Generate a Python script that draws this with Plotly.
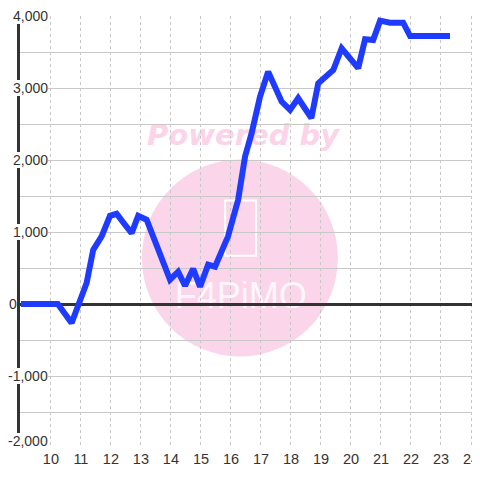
import plotly.graph_objects as go

# ---- data ----
hours = [9.0, 10.23, 10.69, 11.19, 11.41, 11.69, 11.97, 12.19, 12.47, 12.69,
         12.91, 13.19, 13.97, 14.24, 14.47, 14.74, 14.97, 15.24, 15.47, 15.90,
         16.24, 16.47, 16.69, 16.97, 17.24, 17.69, 17.97, 18.24, 18.68, 18.91,
         19.41, 19.69, 20.24, 20.47, 20.74, 20.97, 21.30, 21.74, 21.97, 23.30]
values = [0, 0, -264, 291, 753, 938, 1225, 1253, 1100, 985,
          1225, 1170, 337, 448, 254, 490, 240, 545, 518, 936,
          1447, 2048, 2373, 2880, 3227, 2811, 2696, 2858, 2581, 3066,
          3250, 3552, 3275, 3677, 3667, 3935, 3907, 3907, 3722, 3722]

x_ticks = list(range(10, 25))
x_tick_labels = [str(h) for h in x_ticks]
y_ticks = [4000, 3000, 2000, 1000, 0, -1000, -2000]
y_tick_labels = ["4,000", "3,000", "2,000", "1,000", "0", "-1,000", "-2,000"]

X_RANGE = [8.97, 24.3]
Y_RANGE = [-2000, 4000]

fig = go.Figure()
fig.add_trace(go.Scatter(
    x=hours, y=values, mode="lines",
    line=dict(color="#1f3bff", width=6),
    hoverinfo="skip", showlegend=False,
))

shapes = [
    # watermark circle
    dict(type="circle", xref="paper", yref="paper",
         x0=0.265, x1=0.691, y0=0.2116, y1=0.6676,
         fillcolor="#fbd6ea", line=dict(width=0), layer="below"),
    # phone outline of logo
    dict(type="rect", xref="paper", yref="paper",
         x0=0.446, x1=0.513, y0=0.445, y1=0.573,
         line=dict(color="white", width=2), fillcolor="rgba(0,0,0,0)", layer="below"),
    # logo text
    dict(type="rect", xref="paper", yref="paper",
         x0=0.30, x1=0.66, y0=0.30, y1=0.42,
         line=dict(width=0), fillcolor="rgba(0,0,0,0)", layer="below",
         label=dict(text="F4PiMO", textposition="middle center",
                    font=dict(family="Liberation Sans", size=36,
                              color="rgba(255,255,255,0.8)"))),
    # "Powered by"
    dict(type="rect", xref="paper", yref="paper",
         x0=0.25, x1=0.72, y0=0.69, y1=0.77,
         line=dict(width=0), fillcolor="rgba(0,0,0,0)", layer="below",
         label=dict(text="Powered by", textposition="middle center",
                    font=dict(family="DejaVu Sans", size=29, color="#fcd3e8",
                              weight="bold", style="italic"))),
    # white strip hiding horizontal gridlines next to the y axis
    dict(type="rect", xref="paper", yref="paper",
         x0=0, x1=28 / 460, y0=0, y1=1,
         fillcolor="white", line=dict(width=0), layer="between"),
]

annotations = []
for v, t in zip(y_ticks, y_tick_labels):
    if v == 0:
        annotations.append(dict(xref="paper", yref="y", x=-12 / 460, y=v, text=t,
                                xanchor="left", showarrow=False, borderpad=0,
                                font=dict(family="Liberation Sans", size=14, color="#333")))
    else:
        annotations.append(dict(xref="paper", yref="y", x=27.5 / 460, y=v, text=t,
                                xanchor="right", showarrow=False, bgcolor="white",
                                borderpad=0, borderwidth=0,
                                yshift=7 if v == Y_RANGE[0] else 0,
                                font=dict(family="Liberation Sans", size=14, color="#333")))

fig.update_layout(
    width=472, height=464,
    margin=dict(l=12, r=0, t=8, b=24, autoexpand=False),
    paper_bgcolor="white", plot_bgcolor="white",
    shapes=shapes, annotations=annotations,
    showlegend=False,
    xaxis=dict(range=X_RANGE, tickvals=x_ticks, ticktext=x_tick_labels,
               showgrid=True, gridcolor="#c8c8c8", gridwidth=1, griddash="3px,3px",
               zeroline=False, showline=False, ticks="", automargin=False,
               tickfont=dict(family="Liberation Sans", size=14.5, color="#333"),
               fixedrange=True),
    yaxis=dict(range=Y_RANGE, dtick=500, tick0=0,
               showgrid=True, gridcolor="#c8c8c8", gridwidth=1,
               showticklabels=False, ticks="", automargin=False,
               showline=True, linecolor="#333", linewidth=3,
               zeroline=True, zerolinecolor="#333", zerolinewidth=3,
               fixedrange=True),
)

fig.write_html("out.html")
